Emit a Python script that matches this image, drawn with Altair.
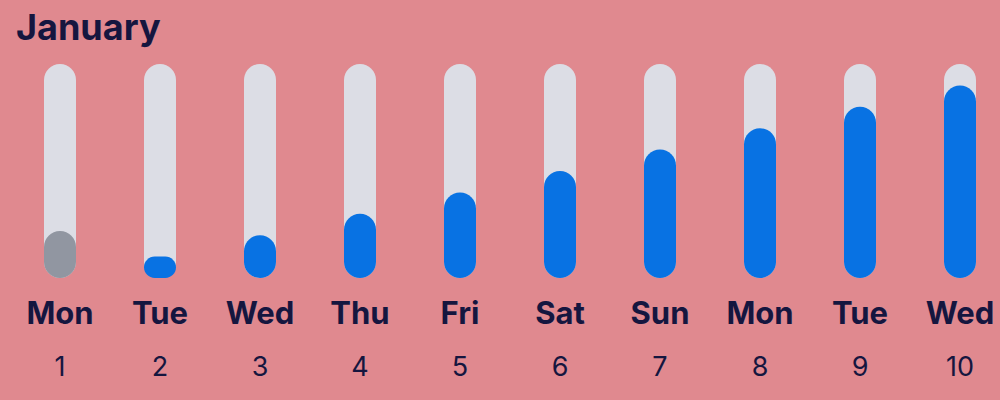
import altair as alt
import pandas as pd

title_text = "January"
days = ["Mon", "Tue", "Wed", "Thu", "Fri", "Sat", "Sun", "Mon", "Tue", "Wed"]
dates = [1, 2, 3, 4, 5, 6, 7, 8, 9, 10]
values = [22, 10, 20, 30, 40, 50, 60, 70, 80, 90]
status = ["muted", "active", "active", "active", "active",
          "active", "active", "active", "active", "active"]
track_max = 100

df = pd.DataFrame({"day": days, "date": dates, "value": values,
                   "status": status, "track": [track_max] * len(days)})

BG = "#e0898f"
TEXT = "#15163f"
FONT = "Inter"

x = alt.X("date:Q", scale=alt.Scale(domain=[0.4, 10.4], padding=0, nice=False, zero=False),
          axis=None)
yscale = alt.Scale(domain=[0, 100])

base = alt.Chart(df)

track = base.mark_bar(width=32, cornerRadius=16, color="#dcdde5").encode(
    x=x,
    y=alt.Y("track:Q", scale=yscale, axis=None),
    y2=alt.datum(0),
)

bars = base.mark_bar(width=32, cornerRadius=16).encode(
    x=x,
    y=alt.Y("value:Q", scale=yscale, axis=None),
    y2=alt.datum(0),
    color=alt.Color("status:N",
                    scale=alt.Scale(domain=["muted", "active"],
                                    range=["#9196a1", "#0872e3"]),
                    legend=None),
)

day_text = base.mark_text(font=FONT, fontSize=31, fontWeight="bold",
                          color=TEXT, baseline="middle").encode(
    x=x, y=alt.value(251), text="day:N")

date_text = base.mark_text(font=FONT, fontSize=27, fontWeight="normal",
                           color=TEXT, baseline="middle").encode(
    x=x, y=alt.value(304), text="date:N")

title = alt.Chart(pd.DataFrame({"t": [title_text]})).mark_text(
    font=FONT, fontSize=36, fontWeight="bold", color=TEXT,
    align="left", baseline="alphabetic").encode(
    x=alt.value(16), y=alt.value(-24), text="t:N")

chart = alt.layer(track, bars, day_text, date_text, title).properties(
    width=1000,
    height=214,
    autosize=alt.AutoSizeParams(type="none"),
    padding={"top": 64, "left": 0, "right": 0, "bottom": 122},
    background=BG,
).configure_view(stroke=None)

chart.save("out.html", embed_options={"renderer": "svg", "actions": False})
